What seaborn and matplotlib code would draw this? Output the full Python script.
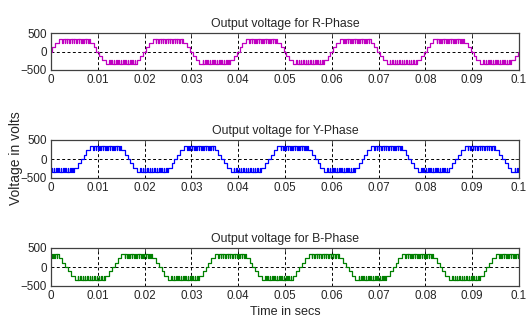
"""Three-phase stepped inverter output voltages (R, Y, B), MATLAB-style panels."""
import numpy as np
import pandas as pd
import matplotlib
matplotlib.use('Agg')
import matplotlib.pyplot as plt
import seaborn as sns
from matplotlib import font_manager

# --- data ------------------------------------------------------------------
# positive half cycle of the R-phase, breakpoints in ms and level in volts
HALF_T_MS = [0.0, 0.3, 0.9, 1.7, 8.3, 9.1, 9.7]
HALF_LEVEL = [0, 115, 230, 345, 230, 115, 0]
# short switching notches on the flat top (start, end in ms) down to PULSE_LEVEL
PULSE_START_MS = [2.4, 2.9, 3.4, 3.9, 4.4, 4.9, 5.4, 5.9, 6.4, 6.9, 7.4, 7.9]
PULSE_END_MS = [2.52, 3.02, 3.52, 4.02, 4.52, 5.02, 5.52, 6.02, 6.52, 7.02, 7.52, 8.02]
PULSE_LEVEL = 230
TOP_LEVEL = 345
PERIOD_MS = 20.0

phases = ['R', 'Y', 'B']
phase_shift_ms = [0.0, 6.667, -6.667]      # Y lags, B leads by a third of a period
phase_colors = ['#c000c0', '#0000ff', '#008000']
titles = ['Output voltage for R-Phase', 'Output voltage for Y-Phase',
          'Output voltage for B-Phase']
xticks = [0, 0.01, 0.02, 0.03, 0.04, 0.05, 0.06, 0.07, 0.08, 0.09, 0.1]
xtick_labels = ['0', '0.01', '0.02', '0.03', '0.04', '0.05', '0.06', '0.07',
                '0.08', '0.09', '0.1']
yticks = [-500, 0, 500]
T_END_MS = 100.0


def build_phase(shift_ms):
    # one half cycle: base steps plus notches
    ev = list(zip(HALF_T_MS, HALF_LEVEL))
    ev += [(s, PULSE_LEVEL) for s in PULSE_START_MS]
    ev += [(e, TOP_LEVEL) for e in PULSE_END_MS]
    ev.sort()
    half = PERIOD_MS / 2
    period = ev + [(t + half, -v) for t, v in ev]
    rows = []
    for k in range(-1, 7):
        for t, v in period:
            rows.append((t + k * PERIOD_MS + shift_ms, v))
    rows.sort()
    before = [r for r in rows if r[0] <= 0]
    inside = [r for r in rows if 0 < r[0] < T_END_MS]
    start_v = before[-1][1]
    end_v = inside[-1][1]
    pts = [(0.0, start_v)] + inside + [(T_END_MS, end_v)]
    return pd.DataFrame({'t': [p[0] / 1000 for p in pts], 'v': [p[1] for p in pts]})


frames = []
for p, sh in zip(phases, phase_shift_ms):
    d = build_phase(sh)
    d['phase'] = p
    frames.append(d)
df = pd.concat(frames, ignore_index=True)

# --- style -----------------------------------------------------------------
sns.set_theme(style='white')
names = {f.name for f in font_manager.fontManager.ttflist}
narrow = 'Liberation Sans Narrow' in names
txt_font = 'Liberation Sans Narrow' if narrow else 'Liberation Sans'
k = 1.0 if narrow else 0.84
plt.rcParams['font.family'] = [txt_font, 'DejaVu Sans']
plt.rcParams['xtick.direction'] = 'in'
plt.rcParams['ytick.direction'] = 'in'

fig = plt.figure(figsize=(5.26, 3.24), dpi=100)
W, H = 526, 324
boxes = [(33, 70), (140, 178), (248, 286)]   # top / bottom pixel rows of each panel
left_px, right_px = 51, 519

for i, (p, col, title) in enumerate(zip(phases, phase_colors, titles)):
    top, bot = boxes[i]
    ax = fig.add_axes([left_px / W, 1 - bot / H, (right_px - left_px) / W, (bot - top) / H])
    sub = df[df['phase'] == p]
    sns.lineplot(data=sub, x='t', y='v', ax=ax, color=col, lw=0.9,
                 drawstyle='steps-post', estimator=None, sort=False)
    ax.set_xlim(0, 0.1)
    ax.set_ylim(-500, 500)
    ax.set_xticks(xticks)
    ax.set_xticklabels(xtick_labels)
    ax.set_yticks(yticks)
    ax.tick_params(labelsize=10 * k, length=3, width=0.6, color='#333333',
                   pad=3, top=True, right=True)
    ax.grid(True, color='black', linestyle=(0, (3, 2.5)), linewidth=0.7)
    for s in ax.spines.values():
        s.set_color('#404040')
        s.set_linewidth(0.9)
    ax.set_xlabel('')
    ax.set_ylabel('')
    ax.set_title(title, fontsize=10.5 * k, pad=4)
    if i == 2:
        ax.set_xlabel('Time in secs', fontsize=10.8 * k, labelpad=3)

fig.text(16 / W, 1 - 158 / H, 'Voltage in volts', rotation=90, ha='center', va='center',
         fontsize=10, family=['Liberation Sans', 'DejaVu Sans'])

fig.savefig('out.png', dpi=100)
